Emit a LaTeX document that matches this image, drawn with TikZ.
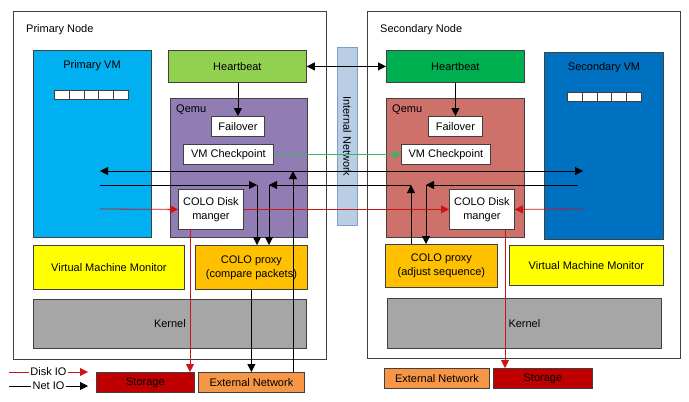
\documentclass[tikz,border=0pt]{standalone}
\usepackage{fontspec}
\setmainfont{Liberation Sans}
\usetikzlibrary{arrows.meta}

\definecolor{bleuP}{HTML}{00B0F0}
\definecolor{bleuS}{HTML}{0070C0}
\definecolor{vertP}{HTML}{92D050}
\definecolor{vertS}{HTML}{00B050}
\definecolor{violetQ}{RGB}{145,124,180}
\definecolor{saumonQ}{RGB}{205,113,106}
\definecolor{jauneM}{HTML}{FFFF00}
\definecolor{orangeP}{HTML}{FFC000}
\definecolor{orangeE}{HTML}{F79646}
\definecolor{grisK}{HTML}{A6A6A6}
\definecolor{rougeS}{HTML}{C00000}
\definecolor{bleuI}{HTML}{B9CDE5}
\definecolor{bleuB}{HTML}{7F9DC6}
\definecolor{trait}{HTML}{404040}
\definecolor{vertF}{RGB}{60,180,100}
\definecolor{rougeF}{RGB}{205,20,20}

\tikzset{
  boite/.style={draw=trait, line width=0.8pt, anchor=north west, inner sep=0pt, align=center},
  cadre/.style={draw=trait, line width=0.9pt, fill=white, anchor=north west},
  titre/.style={anchor=west, inner sep=0pt},
  case/.style={draw=trait, fill=white, line width=0.6pt, anchor=north west, minimum width=14.8, minimum height=9, inner sep=0pt},
  fleche/.style={line width=0.8pt, ->},
  disque/.style={line width=0.8pt, draw=rougeF}
}

\begin{document}
\begin{tikzpicture}[x=1pt, y=-1pt, font=\fontsize{11}{14}\selectfont, >={Triangle[length=8pt,width=8pt]}]
   \useasboundingbox (0,0) rectangle (689,402);

   % Noeud primaire
   \node[cadre, minimum width=313, minimum height=348] (frameP) at (13,11) {};
   \node[titre] (tP) at (26,30) {Primary Node};
   \node[boite, fill=bleuP, minimum width=118, minimum height=187] (vmP) at (33,50) {};
   \node[inner sep=0pt] (lvP) at (92,66) {Primary VM};
   \foreach \i in {0,...,4} \node[case] (cP\i) at (54+14.8*\i,90) {};
   \node[boite, fill=vertP, minimum width=138, minimum height=32] (hbP) at (168,50) {Heartbeat};
   \node[boite, fill=violetQ, minimum width=137, minimum height=139] (qemuP) at (170,98) {};
   \node[titre] (lqP) at (176,110) {Qemu};
   \node[boite, fill=white, minimum width=53, minimum height=20] (failP) at (211,116) {Failover};
   \node[boite, fill=white, minimum width=90, minimum height=20] (ckP) at (183,144) {VM Checkpoint};
   \node[boite, fill=white, minimum width=65, minimum height=40] (diskP) at (178,189) {COLO Disk\\manger};
   \node[boite, fill=jauneM, minimum width=151, minimum height=44] (vmmP) at (33,245) {Virtual Machine Monitor};
   \node[boite, fill=orangeP, minimum width=112, minimum height=44] (proxyP) at (195,245) {COLO proxy\\(compare packets)};
   \node[boite, fill=grisK, minimum width=273, minimum height=49] (kerP) at (33,299) {Kernel};
   \node[boite, fill=rougeS, minimum width=98, minimum height=20] (stoP) at (96,372) {Storage};
   \node[boite, fill=orangeE, minimum width=106, minimum height=20] (extP) at (198,372) {External Network};

   % Reseau interne
   \node[boite, draw=bleuB, fill=bleuI, minimum width=20, minimum height=178] (net) at (337,47) {};
   \node[rotate=-90, inner sep=0pt] (lnet) at (net.center) {Internal Network};

   % Noeud secondaire
   \node[cadre, minimum width=313, minimum height=347] (frameS) at (367,11) {};
   \node[titre] (tS) at (380,30) {Secondary Node};
   \node[boite, fill=vertS, minimum width=138, minimum height=32] (hbS) at (386,50) {Heartbeat};
   \node[boite, fill=bleuS, minimum width=119, minimum height=187] (vmS) at (544,52) {};
   \node[inner sep=0pt] (lvS) at (604,68) {Secondary VM};
   \foreach \i in {0,...,4} \node[case] (cS\i) at (567+14.8*\i,92) {};
   \node[boite, fill=saumonQ, minimum width=138, minimum height=139] (qemuS) at (386,98) {};
   \node[titre] (lqS) at (392,110) {Qemu};
   \node[boite, fill=white, minimum width=54, minimum height=20] (failS) at (428,116) {Failover};
   \node[boite, fill=white, minimum width=89, minimum height=20] (ckS) at (401,144) {VM Checkpoint};
   \node[boite, fill=white, minimum width=65, minimum height=40] (diskS) at (449,189) {COLO Disk\\manger};
   \node[boite, fill=orangeP, minimum width=112, minimum height=43] (proxyS) at (385,244) {COLO proxy\\(adjust sequence)};
   \node[boite, fill=jauneM, minimum width=154, minimum height=40] (vmmS) at (509,245) {Virtual Machine Monitor};
   \node[boite, fill=grisK, minimum width=274, minimum height=50] (kerS) at (387,298) {Kernel};
   \node[boite, fill=orangeE, minimum width=105, minimum height=20] (extS) at (384,368) {External Network};
   \node[boite, fill=rougeS, minimum width=99, minimum height=20] (stoS) at (493,368) {Storage};

   % Points de passage des fleches
   \coordinate (inP) at (100,171);  \coordinate (inS) at (583,171);  \coordinate (upE) at (293,171);
   \coordinate (outP) at (100,185); \coordinate (cmpA) at (257,185); \coordinate (cmpB) at (269,185);
   \coordinate (fwdS) at (411,185); \coordinate (cmpS) at (426,185); \coordinate (outS) at (578,185);
   \coordinate (dkP) at (100,209);  \coordinate (dkS) at (583,209);
   \coordinate (dwP) at (190,229);  \coordinate (dwS) at (505,229);

   % Heartbeat et checkpoint
   \draw[fleche, <->] (hbP.east) -- (hbS.west);
   \draw[fleche] (failP.north |- hbP.south) -- (failP.north);
   \draw[fleche] (hbS.south) -- (failS.north);
   \draw[fleche, draw=vertF, fill=vertF] (ckP.east) -- (ckS.west);

   % Paquets reseau
   \draw[fleche, <->] (inP) -- (inS);
   \draw[fleche] (extP.north -| upE) -- (upE);
   \draw[fleche] (outP) -- (cmpA);
   \draw[fleche] (cmpA) -- (cmpA |- proxyP.north);
   \draw[fleche] (proxyS.north -| fwdS) -- (fwdS);
   \draw[fleche] (fwdS) -- (cmpB);
   \draw[fleche] (cmpB) -- (cmpB |- proxyP.north);
   \draw[fleche] (outS) -- (cmpS);
   \draw[fleche] (cmpS) -- (cmpS |- proxyS.north);
   \draw[fleche] (proxyP.south) -- (extP.north);

   % Entrees-sorties disque
   \draw[disque, ->] (dkP) -- (diskP.west);
   \draw[disque, ->] (diskP.east) -- (diskS.west);
   \draw[disque, ->] (dkS) -- (diskS.east);
   \draw[disque, ->] (dwP) -- (dwP |- stoP.north);
   \draw[disque, ->] (dwS) -- (dwS |- stoS.north);

   % Legende
   \node[inner sep=1pt] (lgD) at (48.5,372) {Disk IO};
   \node[inner sep=1pt] (lgN) at (48.5,386) {Net IO};
   \coordinate (d0) at (9,372); \coordinate (d1) at (88,372);
   \coordinate (n0) at (9,386); \coordinate (n1) at (88,386);
   \draw[disque] (d0) -- (lgD);
   \draw[disque, ->] (lgD) -- (d1);
   \draw[line width=0.8pt] (n0) -- (lgN);
   \draw[fleche] (lgN) -- (n1);
\end{tikzpicture}
\end{document}
